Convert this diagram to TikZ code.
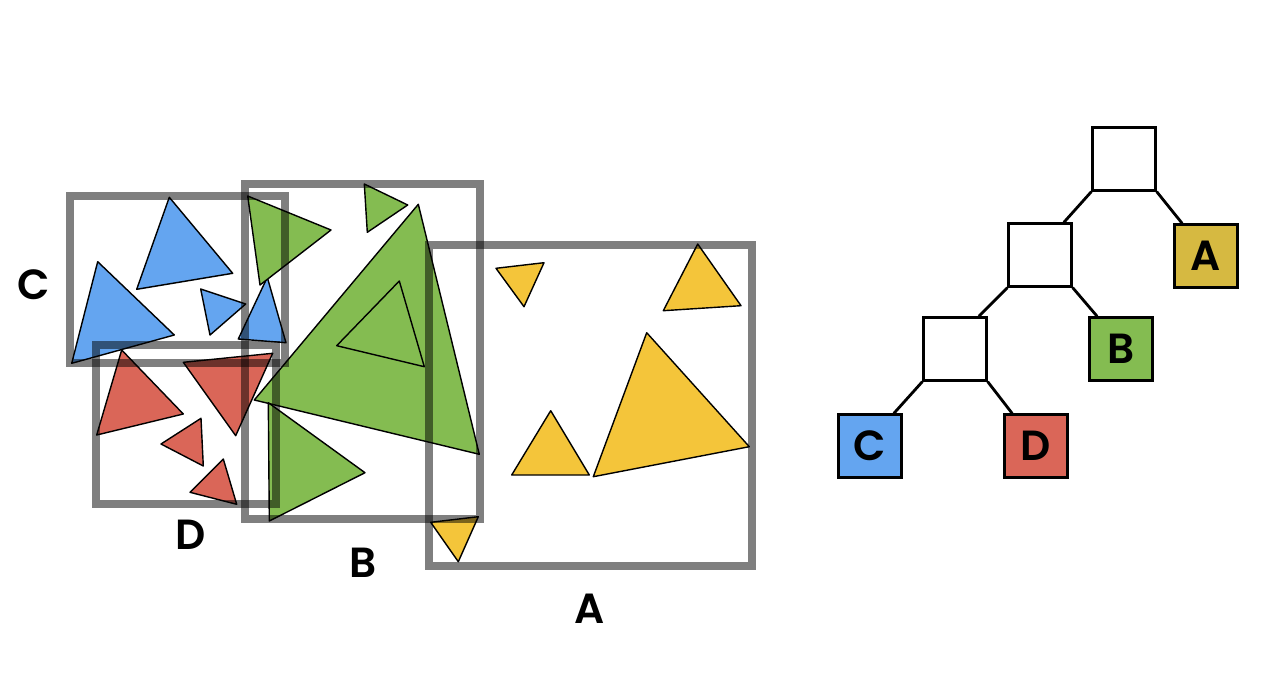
\documentclass[tikz,border=0pt]{standalone}
\usepackage{fontspec}
\setsansfont{Poppins}[BoldFont={Poppins SemiBold}]
\definecolor{tblue}{HTML}{64A5F0}
\definecolor{tred}{HTML}{DA6658}
\definecolor{tgreen}{HTML}{84BC51}
\definecolor{tyellow}{HTML}{F4C53A}
\definecolor{tgold}{HTML}{D6B941}
\tikzset{
  tri/.style={draw=black,line width=0.8pt,line join=round},
  bbox/.style={draw=black,draw opacity=0.5,line width=5.1pt},
  tnode/.style={draw=black,line width=1.6pt,minimum size=1.25cm,inner sep=0pt,
    font=\sffamily\bfseries\fontsize{24}{28}\selectfont},
  lbl/.style={font=\sffamily\bfseries\fontsize{24}{28}\selectfont},
  edge/.style={line width=1.6pt}
}
\begin{document}
\begin{tikzpicture}[x=0.02cm,y=-0.02cm]
\useasboundingbox (0,0) rectangle (1263,689);
\filldraw[tri,fill=tblue] (169.3,197.3)--(232.7,273.3)--(136.7,289.3)--cycle;
\filldraw[tri,fill=tblue] (97.7,261.7)--(174.3,335)--(71.7,363.3)--cycle;
\filldraw[tri,fill=tblue] (200.7,289)--(245.7,304)--(210,335)--cycle;
\filldraw[tri,fill=tblue] (267.3,277.3)--(286,342.7)--(238.3,339)--cycle;
\filldraw[tri,fill=tred] (121.7,350)--(183.3,414)--(96.7,435)--cycle;
\filldraw[tri,fill=tred] (183.3,362.3)--(272.7,353.3)--(235.7,435.7)--cycle;
\filldraw[tri,fill=tred] (201,418.3)--(203.3,466)--(161,444)--cycle;
\filldraw[tri,fill=tred] (223.3,459)--(236.7,504.3)--(190,492.3)--cycle;
\filldraw[tri,fill=tgreen] (247.7,196)--(331,230)--(260,285)--cycle;
\filldraw[tri,fill=tgreen] (364.3,184)--(407.7,205)--(367.3,232.3)--cycle;
\filldraw[tri,fill=tgreen] (418.3,204.3)--(479.3,454.3)--(254.3,400)--cycle;
\filldraw[tri,fill=tgreen] (399.3,281)--(424.3,366.7)--(336.7,345.7)--cycle;
\filldraw[tri,fill=tgreen] (268.3,402.7)--(365,472.7)--(269.3,521)--cycle;
\filldraw[tri,fill=tyellow] (496,268.3)--(544,262.7)--(524,306.7)--cycle;
\filldraw[tri,fill=tyellow] (697.7,244)--(741,305.7)--(663.3,310.7)--cycle;
\filldraw[tri,fill=tyellow] (550.7,410.7)--(589.3,475)--(511.7,475)--cycle;
\filldraw[tri,fill=tyellow] (646.7,332.7)--(749.3,446.7)--(593.3,476.7)--cycle;
\filldraw[tri,fill=tyellow] (430.7,522.3)--(478.3,516.7)--(458.3,561.7)--cycle;
\draw[bbox] (70,196) rectangle (285,363);
\draw[bbox] (96,345) rectangle (276,504);
\draw[bbox] (245,184) rectangle (480,519);
\draw[bbox] (429,245) rectangle (752,566);
\node[lbl] (lC) at (34,285) {C};
\node[lbl] (lD) at (191,535) {D};
\node[lbl] (lB) at (363,563) {B};
\node[lbl] (lA) at (590,609) {A};
\node[tnode] (tRoot) at (1124,159) {};
\node[tnode] (tMid) at (1040,255) {};
\node[tnode] (tLow) at (955,349) {};
\node[tnode,fill=tgold] (tA) at (1206,256) {A};
\node[tnode,fill=tgreen] (tB) at (1121,349) {B};
\node[tnode,fill=tblue] (tC) at (870,446) {C};
\node[tnode,fill=tred] (tD) at (1036,446) {D};
\draw[edge] (tRoot.south west)--([xshift=-5pt]tMid.north east);
\draw[edge] (tRoot.south east)--([xshift=5pt]tA.north west);
\draw[edge] (tMid.south west)--([xshift=-5pt]tLow.north east);
\draw[edge] (tMid.south east)--([xshift=5pt]tB.north west);
\draw[edge] (tLow.south west)--([xshift=-5pt]tC.north east);
\draw[edge] (tLow.south east)--([xshift=5pt]tD.north west);
\end{tikzpicture}
\end{document}
